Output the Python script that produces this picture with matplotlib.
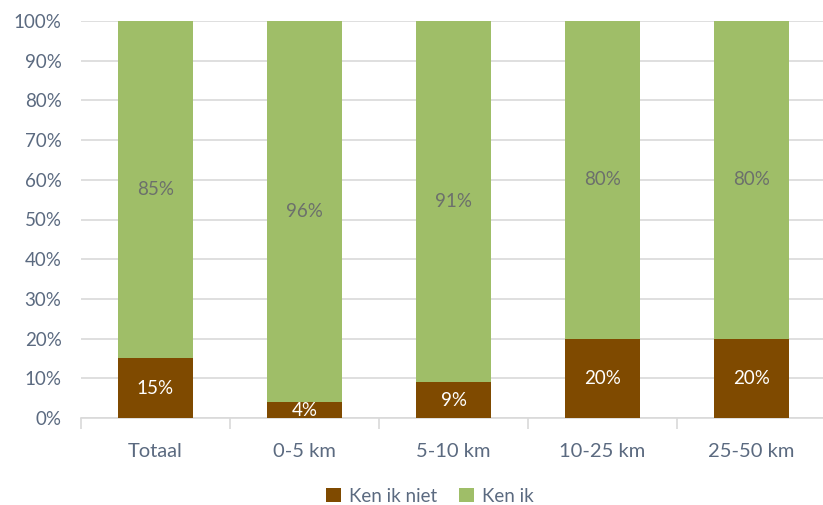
import matplotlib.pyplot as plt
import numpy as np

categories = ['Totaal', '0-5 km', '5-10 km', '10-25 km', '25-50 km']
ken_ik_niet = [15, 4, 9, 20, 20]
ken_ik = [85, 96, 91, 80, 80]
series_names = ['Ken ik niet', 'Ken ik']

brown = '#7f4a00'
green = '#9fbe68'
tick_col = '#5b6a80'

plt.rcParams['font.family'] = ['Lato', 'DejaVu Sans']

fig = plt.figure(figsize=(8.23, 5.05), dpi=100)
ax = fig.add_axes([81 / 823, 87 / 505, 745 / 823, 397 / 505])

x = np.arange(len(categories))
w = 0.503
b1 = ax.bar(x, ken_ik_niet, w, color=brown, label=series_names[0], zorder=3)
b2 = ax.bar(x, ken_ik, w, bottom=ken_ik_niet, color=green, label=series_names[1], zorder=3)

for i in range(len(categories)):
    ax.text(x[i], ken_ik_niet[i] / 2, f'{ken_ik_niet[i]}%', ha='center', va='center',
            color='white', fontsize=13.5, zorder=4)
    ax.text(x[i], ken_ik_niet[i] + ken_ik[i] / 2, f'{ken_ik[i]}%', ha='center', va='center',
            color='#6c706c', fontsize=13.5, zorder=4)

ax.set_xlim(-0.5, len(categories) - 0.5)
ax.set_ylim(0, 100)
ax.set_yticks(np.arange(0, 101, 10))
ax.set_yticklabels([f'{v}%' for v in range(0, 101, 10)])
ax.grid(axis='y', color='#d9d9d9', linewidth=1.2, zorder=0)

for s in ['top', 'right', 'left']:
    ax.spines[s].set_visible(False)
ax.spines['bottom'].set_color('#d9d9d9')
ax.spines['bottom'].set_linewidth(1.2)

ax.set_xticks(x)
ax.set_xticklabels(categories)
ax.tick_params(axis='x', length=0, labelsize=14.5, labelcolor=tick_col, pad=18)
ax.tick_params(axis='y', length=0, labelsize=13.5, labelcolor=tick_col, pad=14)
ax.set_xticks(np.arange(-0.5, len(categories), 1), minor=True)
ax.tick_params(axis='x', which='minor', length=8, color='#d9d9d9', width=1.2)

leg = fig.legend(handles=[b1, b2], labels=series_names, loc='center', bbox_to_anchor=(430 / 823, 1 - 496 / 505),
                 ncol=2, frameon=False, handlelength=0.8, handleheight=0.8, handletextpad=0.4,
                 columnspacing=1.2, fontsize=13.5)
for t in leg.get_texts():
    t.set_color(tick_col)

fig.savefig('out.png', dpi=100)
